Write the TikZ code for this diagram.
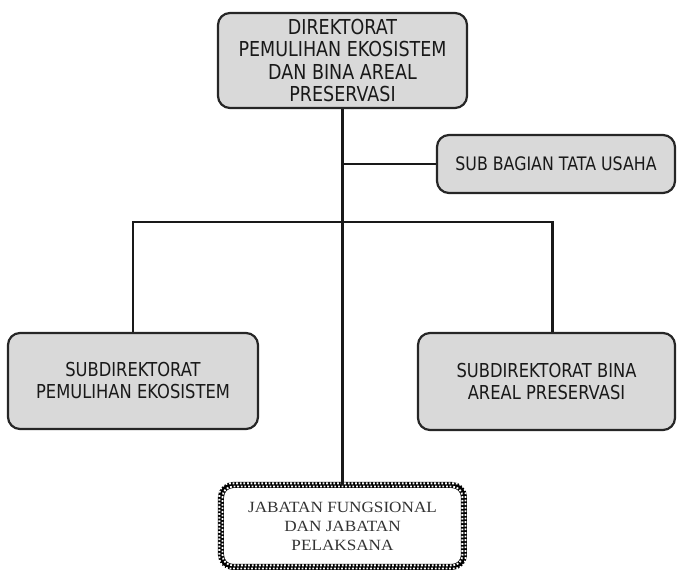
\documentclass[tikz,border=0pt]{standalone}
\usepackage{fontspec}
\setmainfont{DejaVu Sans}[FakeStretch=0.85]
\newfontfamily\jabfont{Liberation Serif}[FakeStretch=1.1]
\usetikzlibrary{positioning,calc}

\begin{document}
\begin{tikzpicture}[x=0.5pt,y=-0.5pt,
    box/.style={draw=black!85, line width=1.1pt, fill=black!15, rounded corners=6pt,
      align=center, inner sep=0pt, text=black!90},
    link/.style={line width=1.4pt, draw=black!90},
    dots/.style={white, line width=0.9pt, dash pattern=on 0.9pt off 0.9pt, rounded corners=5pt}]
    \useasboundingbox (0,0) rectangle (677,572);
    \node[box, minimum width=124.5pt, minimum height=47.5pt, font=\fontsize{10.3}{11.3}\selectfont] (dir) at (342.5,60.5)
        {DIREKTORAT\\PEMULIHAN EKOSISTEM\\DAN BINA AREAL\\PRESERVASI};
    \node[box, minimum width=119pt, minimum height=29pt, font=\fontsize{9.3}{11}\selectfont] (tu) at (556,164)
        {SUB BAGIAN TATA USAHA};
    \node[box, minimum width=125pt, minimum height=48pt, font=\fontsize{9.6}{11}\selectfont] (pem) at (133,381)
        {SUBDIREKTORAT\\PEMULIHAN EKOSISTEM};
    \node[box, minimum width=128.5pt, minimum height=48.5pt, font=\fontsize{9.6}{11}\selectfont] (bina) at (546.5,381.5)
        {SUBDIREKTORAT BINA\\AREAL PRESERVASI};
    \node[draw=black, line width=3pt, fill=white, rounded corners=6pt, outer sep=0pt, align=center,
        minimum width=121.5pt, minimum height=41pt, font=\jabfont\fontsize{7.8}{9.5}\selectfont, text=black!80] (jab) at (342.5,526)
        {JABATAN FUNGSIONAL\\DAN JABATAN\\PELAKSANA};
    \draw[dots] ($(jab.north west)+(1.6,1.6)$) rectangle ($(jab.south east)+(-1.6,-1.6)$);
    \draw[dots, dash phase=0.9pt] ($(jab.north west)+(-1.6,-1.6)$) rectangle ($(jab.south east)+(1.6,1.6)$);

    \coordinate (bar) at (342.5,222);
    \draw[link] (dir.south) -- (jab.north);
    \draw[link] (dir.south |- tu.west) -- (tu.west);
    \draw[link] (pem.north) |- (bar) -| ([xshift=3pt]bina.north);
\end{tikzpicture}
\end{document}
